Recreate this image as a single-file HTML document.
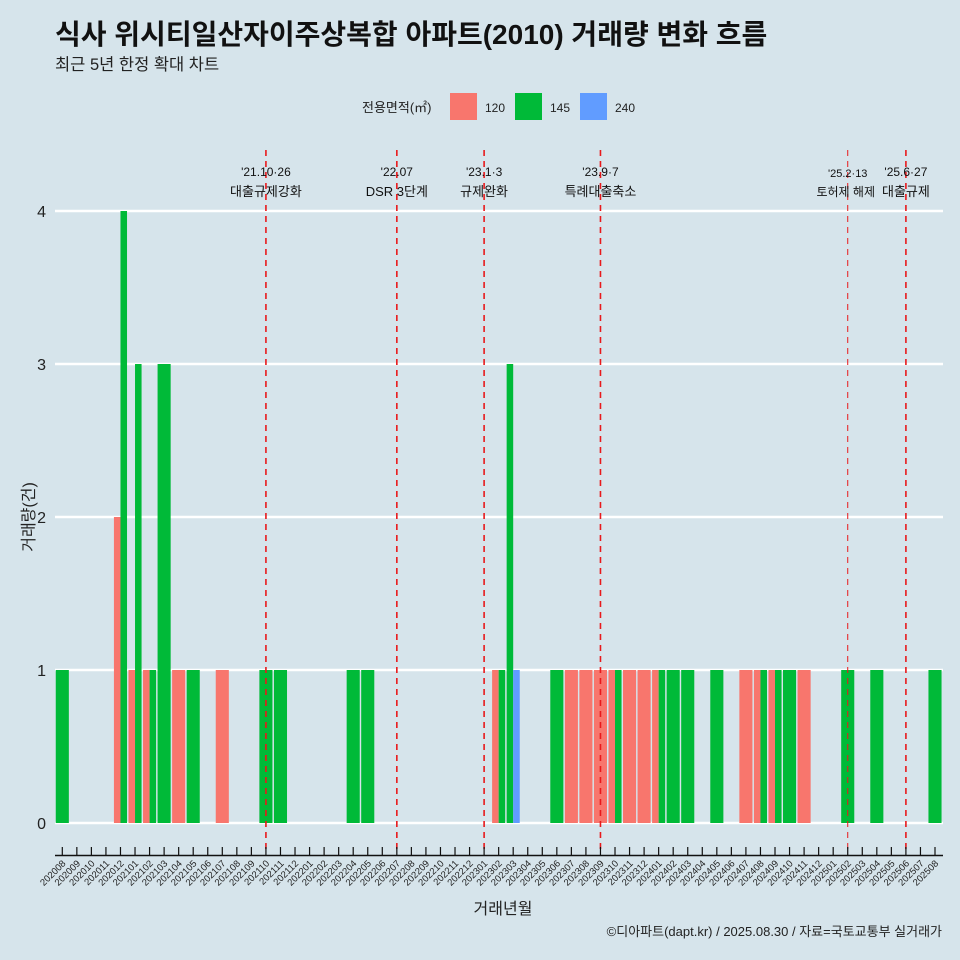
<!DOCTYPE html>
<html><head><meta charset="utf-8"><style>
body{margin:0;background:#d6e4eb;}
svg{display:block;font-family:"Liberation Sans","Noto Sans CJK KR",sans-serif;}
</style></head><body>
<svg id="c" width="960" height="960" viewBox="0 0 960 960">
<rect width="960" height="960" fill="#d6e4eb"/>
<text x="55" y="44" font-size="28" font-weight="bold" fill="#111">식사 위시티일산자이주상복합 아파트(2010) 거래량 변화 흐름</text>
<text x="55" y="70" font-size="16.5" fill="#222">최근 5년 한정 확대 차트</text>
<g>
<text x="362" y="112" font-size="13" fill="#222">전용면적(㎡)</text>
<rect x="450" y="93" width="27" height="27" fill="#f8766d"/>
<text x="485" y="112" font-size="12" fill="#222">120</text>
<rect x="515" y="93" width="27" height="27" fill="#00ba38"/>
<text x="550" y="112" font-size="12" fill="#222">145</text>
<rect x="580" y="93" width="27" height="27" fill="#619cff"/>
<text x="615" y="112" font-size="12" fill="#222">240</text>
</g>
<g id="grid"></g><g id="bars"></g><g id="events"></g><g id="axes"></g>
<text x="503" y="914" font-size="16" text-anchor="middle" fill="#222">거래년월</text>
<text transform="translate(34,517) rotate(-90)" font-size="16" text-anchor="middle" fill="#222">거래량(건)</text>
<text x="942" y="936" font-size="13" text-anchor="end" fill="#222">©디아파트(dapt.kr) / 2025.08.30 / 자료=국토교통부 실거래가</text>
</svg>
<script>
const months=[];for(let y=2020,m=8;y<2025||(y===2025&&m<=8);){months.push(y+String(m).padStart(2,'0'));m++;if(m>12){m=1;y++;}}
const series=['120','145','240'];
const colors={'120':'#f8766d','145':'#00ba38','240':'#619cff'};
const v120={'202012':2,'202101':1,'202102':1,'202104':1,'202107':1,'202302':1,'202307':1,'202308':1,'202309':1,'202310':1,'202311':1,'202312':1,'202401':1,'202407':1,'202408':1,'202409':1,'202411':1};
const v145={'202008':1,'202012':4,'202101':3,'202102':1,'202103':3,'202105':1,'202110':1,'202111':1,'202204':1,'202205':1,'202302':1,'202303':3,'202306':1,'202310':1,'202401':1,'202402':1,'202403':1,'202405':1,'202408':1,'202409':1,'202410':1,'202502':1,'202504':1,'202508':1};
const v240={'202303':1};
const yTicks=[0,1,2,3,4];
const eventMonths=['202110','202207','202301','202309','202502','202506'];
const eventL1=["'21.10·26","'22.07","'23.1·3","'23.9·7","'25.2·13","'25.6·27"];
const eventL2=['대출규제강화','DSR 3단계','규제완화','특례대출축소','토허제 해제','대출규제'];
const vals={'120':v120,'145':v145,'240':v240};
const NS='http://www.w3.org/2000/svg';
const x0=62.3,dx=(935-62.3)/(months.length-1);
const X=i=>x0+i*dx;const Y=v=>823-v*153;
function mk(t,a,p){const e=document.createElementNS(NS,t);for(const k in a)e.setAttribute(k,a[k]);p.appendChild(e);return e;}
const grid=document.getElementById('grid'),bars=document.getElementById('bars'),ev=document.getElementById('events'),ax=document.getElementById('axes');
yTicks.forEach(t=>{
 const l=mk('line',{x1:55,x2:943,y1:Y(t),y2:Y(t),stroke:'#fff','stroke-width':2.5},grid);
 
 
 const tx=mk('text',{x:46,y:Y(t)+6,'font-size':16,'text-anchor':'end',fill:'#222'},ax);tx.textContent=t;
 
 
});
const bw=dx*0.9;
months.forEach((m,i)=>{
 const present=series.filter(s=>vals[s][m]);
 const w=bw/(present.length||1);
 present.forEach((s,j)=>{
  const v=vals[s][m];
  const r=mk('rect',{x:X(i)-bw/2+j*w,y:Y(v),width:w,height:Y(0)-Y(v),fill:colors[s]},bars);
  
  
 });
});
mk('line',{x1:55,x2:943,y1:855.5,y2:855.5,stroke:'#111','stroke-width':1.5},ax);
months.forEach((m,i)=>{
 mk('line',{x1:X(i),x2:X(i),y1:847,y2:855,stroke:'#111','stroke-width':1.2},ax);
 const t=mk('text',{transform:`translate(${X(i)+4},${864}) rotate(-45)`,'font-size':9.5,'text-anchor':'end',fill:'#222'},ax);t.textContent=m;
 
 
});
eventMonths.forEach((m,k)=>{
 const i=months.indexOf(m);const thin=m==='202502';
 const l=mk('line',{x1:X(i),x2:X(i),y1:150,y2:852,stroke:'#e8191b','stroke-width':thin?1:1.6,'stroke-dasharray':'6,5'},ev);
 
 
 const fs=thin?11:12;
 const a=mk('text',{x:X(i),y:thin?177:176,'font-size':fs,'text-anchor':'middle',fill:'#111'},ev);a.textContent=eventL1[k];
 
 
 const b=mk('text',{x:thin?X(i)-2:X(i),y:196,'font-size':fs+1,'text-anchor':'middle',fill:'#111'},ev);b.textContent=eventL2[k];
 
 
});
</script>
</body></html>
